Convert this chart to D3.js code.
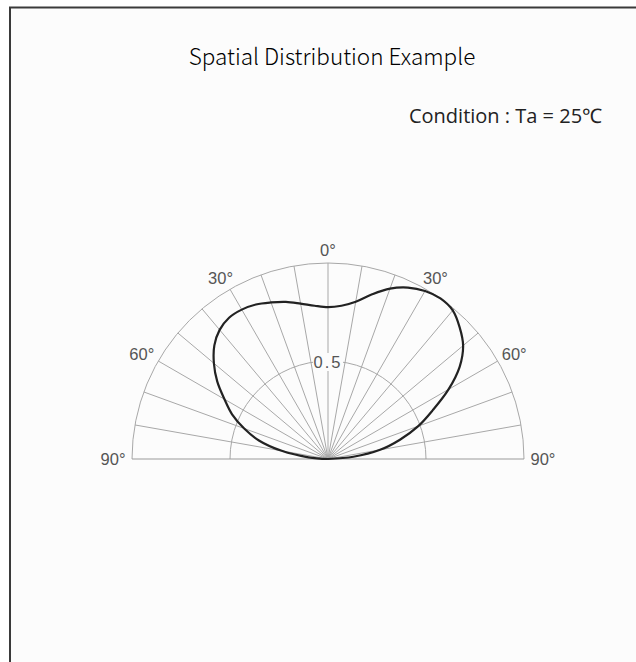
<!DOCTYPE html>
<html>
<head>
<meta charset="utf-8">
<script src="https://cdn.jsdelivr.net/npm/d3@7"></script>
<style>
  html, body { margin: 0; padding: 0; background: #fff; }
  svg { display: block; }
</style>
</head>
<body>
<div id="viz"></div>
<script>
// 相对强度（按角度读取，-90° 左 ~ 90° 右）
const angles = [-90, -85, -80, -75, -70, -65, -60, -55, -50, -45, -40, -35, -30, -25, -20, -15, -10, -5,
                0, 5, 10, 15, 20, 25, 30, 35, 40, 45, 50, 55, 60, 65, 70, 75, 80, 85, 90];
const intensity = [0, 0.10, 0.24, 0.365, 0.455, 0.54, 0.61, 0.69, 0.76, 0.82, 0.86, 0.88, 0.88, 0.87, 0.85, 0.83, 0.805, 0.785,
                   0.775, 0.785, 0.815, 0.87, 0.925, 0.965, 0.99, 1.0, 0.99, 0.95, 0.90, 0.82, 0.71, 0.59, 0.49, 0.38, 0.27, 0.13, 0];

const ringTicks = [0.5, 1];
const spokeAngles = [-80, -70, -60, -50, -40, -30, -20, -10, 0, 10, 20, 30, 40, 50, 60, 70, 80];
const angleLabels = [-90, -60, -30, 0, 30, 60, 90];
const titleText = "Spatial Distribution Example";
const conditionText = "Condition : Ta = 25\u2103";

const width = 636, height = 662;
const cx = 328, cy = 459, R = 196;

const svg = d3.select("#viz").append("svg")
    .attr("width", width)
    .attr("height", height);

// 外框（右侧和底部被裁掉）
svg.append("rect")
    .attr("x", 10)
    .attr("y", 7.5)
    .attr("width", width + 20)
    .attr("height", height + 20)
    .attr("fill", "#fcfcfc")
    .attr("stroke", "#3a3a3a")
    .attr("stroke-width", 2);

svg.append("text")
    .attr("x", 332)
    .attr("y", 65)
    .attr("text-anchor", "middle")
    .attr("font-family", "'Noto Sans CJK JP', 'Noto Sans', sans-serif")
    .attr("font-weight", 300)
    .attr("font-size", 22.5)
    .attr("fill", "#000")
    .text(titleText);

svg.append("text")
    .attr("x", 602)
    .attr("y", 123)
    .attr("text-anchor", "end")
    .attr("font-family", "'Open Sans', 'Noto Sans', sans-serif")
    .attr("font-size", 20)
    .attr("fill", "#222")
    .text(conditionText);

const r = d3.scaleLinear().domain([0, 1]).range([0, R]);
const rad = d => d * Math.PI / 180;

const g = svg.append("g").attr("transform", `translate(${cx},${cy})`);

// 放射线
g.selectAll(".spoke")
    .data(spokeAngles)
    .join("line")
    .attr("class", "spoke")
    .attr("x1", 0)
    .attr("y1", 0)
    .attr("x2", d => r(1) * Math.sin(rad(d)))
    .attr("y2", d => -r(1) * Math.cos(rad(d)))
    .attr("stroke", "#a8a8a8")
    .attr("stroke-width", 1);

// 同心半圆
g.selectAll(".ring")
    .data(ringTicks)
    .join("path")
    .attr("class", "ring")
    .attr("d", d => {
        const p = d3.path();
        p.arc(0, 0, r(d), -Math.PI, 0);
        return p.toString();
    })
    .attr("fill", "none")
    .attr("stroke", "#a8a8a8")
    .attr("stroke-width", 1);

// 底线
g.append("line")
    .attr("x1", -r(1))
    .attr("x2", r(1))
    .attr("y1", 0)
    .attr("y2", 0)
    .attr("stroke", "#999")
    .attr("stroke-width", 1.2);

// 0.5 标签（白底盖住圆弧）
const midLabel = g.append("g").attr("transform", `translate(0,${-r(0.5) + 1})`);
midLabel.append("rect")
    .attr("x", -15)
    .attr("y", -9)
    .attr("width", 30)
    .attr("height", 18)
    .attr("fill", "#fcfcfc");
midLabel.append("text")
    .attr("text-anchor", "middle")
    .attr("dy", "0.36em")
    .attr("font-family", "'Liberation Sans Narrow', 'Liberation Sans', sans-serif")
    .attr("font-size", 16.5)
    .attr("letter-spacing", 2)
    .attr("fill", "#555")
    .text("0.5");

// 角度标签
g.selectAll(".alabel")
    .data(angleLabels)
    .join("text")
    .attr("class", "alabel")
    .attr("x", d => (r(1) + 19) * Math.sin(rad(d)))
    .attr("y", d => -(r(1) + 13) * Math.cos(rad(d)))
    .attr("dy", "0.36em")
    .attr("text-anchor", "middle")
    .attr("font-family", "'Liberation Sans Narrow', 'Liberation Sans', sans-serif")
    .attr("font-size", 16.5)
    .attr("fill", "#555")
    .text(d => Math.abs(d) + "\u00b0");

// 配光曲线
const pts = angles.map((a, i) => ({ a, v: intensity[i] }));
const curve = d3.lineRadial()
    .angle(d => rad(d.a))
    .radius(d => r(d.v))
    .curve(d3.curveCatmullRom);

g.append("path")
    .datum(pts)
    .attr("d", curve)
    .attr("fill", "none")
    .attr("stroke", "#222")
    .attr("stroke-width", 2.2);
</script>
</body>
</html>
